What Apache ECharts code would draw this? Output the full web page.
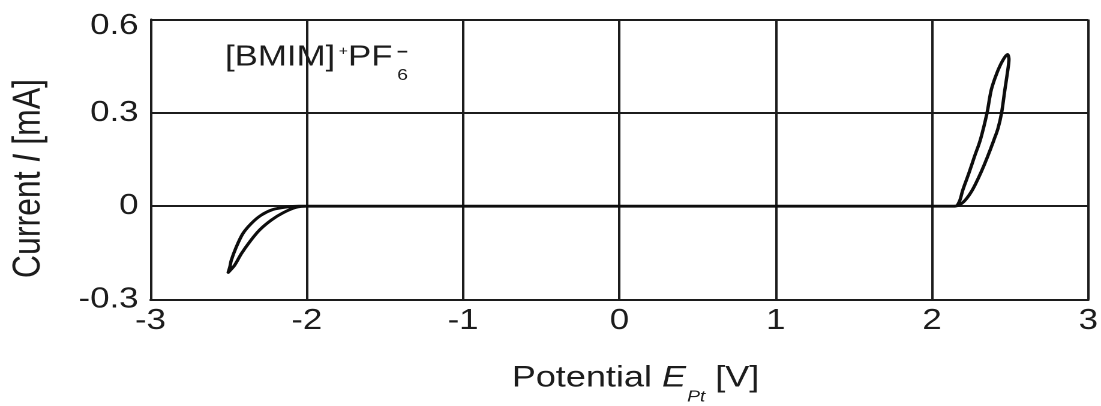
<!DOCTYPE html>
<html>
<head>
<meta charset="utf-8">
<title>[BMIM]+PF6- cyclic voltammogram</title>
<script src="https://cdn.jsdelivr.net/npm/echarts@6/dist/echarts.min.js"></script>
<style>
  html, body { margin: 0; padding: 0; background: #fff; overflow: hidden; }
  /* the figure is drawn 1.2x wider than tall */
  #chart { width: 917.5px; height: 406px; transform: scaleX(1.2); transform-origin: 0 0; }
</style>
</head>
<body>
<div id="chart"></div>
<script>
// Axis ticks
const xTicks = [-3, -2, -1, 0, 1, 2, 3];          // Potential E_Pt [V]
const yTicks = [-0.3, 0, 0.3, 0.6];               // Current I [mA]

// One full scan: 0 V -> anodic limit -> cathodic limit -> 0 V
const potentialV = [
  0, 1.0, 2.0, 2.15,
  2.175, 2.197, 2.235, 2.272, 2.309, 2.352, 2.379, 2.415, 2.452, 2.483,
  2.492, 2.482, 2.466, 2.445, 2.422, 2.396, 2.352, 2.31, 2.258, 2.21, 2.17, 2.13,
  2.0, 1.0, 0, -1.0, -2.0,
  -2.07, -2.155, -2.228, -2.303, -2.366, -2.419, -2.462, -2.503,
  -2.492, -2.483, -2.451, -2.409, -2.356, -2.292, -2.218, -2.133, -2.05,
  -1.0, 0
];
const currentMA = [
  0, 0, 0, 0,
  0.015, 0.052, 0.105, 0.16, 0.213, 0.300, 0.374, 0.428, 0.468, 0.488,
  0.472, 0.428, 0.374, 0.300, 0.25, 0.213, 0.155, 0.105, 0.052, 0.018, 0.003, 0,
  0, 0, 0, 0, 0,
  -0.004, -0.022, -0.045, -0.077, -0.115, -0.153, -0.190, -0.213,
  -0.195, -0.174, -0.131, -0.088, -0.056, -0.029, -0.011, -0.003, 0,
  0, 0
];

const ink = '#1c1c1c';
const font = '"Liberation Sans", Arial, Helvetica, sans-serif';

const chart = echarts.init(document.getElementById('chart'), null, { devicePixelRatio: 2 });

chart.setOption({
  animation: false,
  backgroundColor: '#ffffff',
  grid: { left: 125.4, right: 6.25, top: 19.5, bottom: 106.5 },
  xAxis: {
    type: 'value',
    min: xTicks[0], max: xTicks[xTicks.length - 1], interval: 1,
    axisLine: { show: true, onZero: false, lineStyle: { color: ink, width: 2 } },
    axisTick: { show: false },
    splitLine: { show: true, lineStyle: { color: ink, width: 2 } },
    axisLabel: { color: ink, fontFamily: font, fontSize: 29, margin: 7 }
  },
  yAxis: {
    type: 'value',
    min: yTicks[0], max: yTicks[yTicks.length - 1], interval: 0.3,
    axisLine: { show: true, onZero: false, lineStyle: { color: ink, width: 2 } },
    axisTick: { show: false },
    splitLine: { show: true, lineStyle: { color: ink, width: 2 } },
    axisLabel: {
      color: ink, fontFamily: font, fontSize: 29, margin: 10,
      formatter: function (v) {
        const s = String(Math.round(v * 10) / 10);
        return Math.abs(v - yTicks[yTicks.length - 1]) < 1e-9 ? '{top|' + s + '}' : s;
      },
      rich: { top: { fontFamily: font, fontSize: 29, color: ink, padding: [13, 0, 0, 0] } }
    }
  },
  series: [{
    type: 'line',
    data: potentialV.map((e, i) => [e, currentMA[i]]),
    showSymbol: false,
    smooth: 0.3,
    z: 5,
    lineStyle: { color: '#0d0d0d', width: 2.8, join: 'round', cap: 'round' }
  }],
  graphic: [
    {
      type: 'text', x: 24.2, y: 178.5, rotation: Math.PI / 2,
      style: {
        text: '{n|Current }{i|I}{n| [mA]}',
        align: 'center', verticalAlign: 'middle', fill: ink,
        rich: {
          n: { fontFamily: font, fontSize: 32, fill: ink },
          i: { fontFamily: font, fontSize: 32, fontStyle: 'italic', fill: ink }
        }
      }
    },
    {
      type: 'text', x: 529.6, y: 363.2,
      style: {
        text: '{n|Potential }{e|E}{s|Pt}{n| [V]}',
        align: 'center', verticalAlign: 'top', fill: ink,
        rich: {
          n: { fontFamily: font, fontSize: 30, lineHeight: 36, verticalAlign: 'top', fill: ink },
          e: { fontFamily: font, fontSize: 30, lineHeight: 36, fontStyle: 'italic', verticalAlign: 'top', fill: ink },
          s: { fontFamily: font, fontSize: 16, lineHeight: 18, fontStyle: 'italic', verticalAlign: 'top', padding: [26, 0, 0, 1], fill: ink }
        }
      }
    },
    { type: 'text', x: 187.5, y: 57.5, style: { text: '[BMIM]', font: '29px ' + font, fill: ink, align: 'left', verticalAlign: 'middle' } },
    { type: 'text', x: 286.1, y: 51.2, style: { text: '+', font: '13px ' + font, fill: ink, align: 'center', verticalAlign: 'middle' } },
    { type: 'text', x: 290, y: 57.5, style: { text: 'PF', font: '29px ' + font, fill: ink, align: 'left', verticalAlign: 'middle' } },
    { type: 'text', x: 335.4, y: 52.5, style: { text: '\u2212', font: 'bold 16px ' + font, fill: ink, align: 'center', verticalAlign: 'middle' } },
    { type: 'text', x: 335.4, y: 75.5, style: { text: '6', font: '16px ' + font, fill: ink, align: 'center', verticalAlign: 'middle' } }
  ]
});
</script>
</body>
</html>
